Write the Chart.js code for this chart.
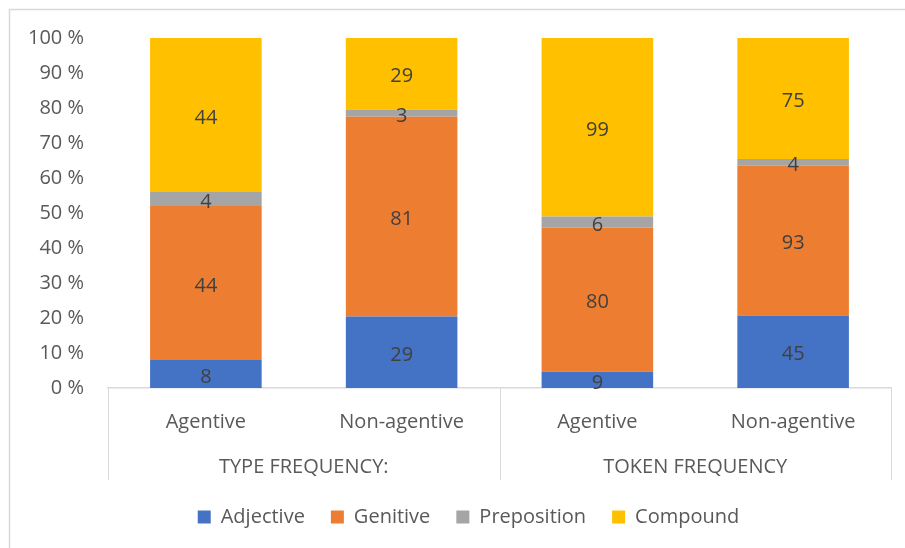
<!DOCTYPE html>
<html>
<head>
<meta charset="utf-8">
<script src="https://cdn.jsdelivr.net/npm/chart.js@4"></script>
<style>
  html, body { margin: 0; padding: 0; background: #fff; }
  #wrap { width: 905px; height: 548px; }
</style>
</head>
<body>
<div id="wrap"><canvas id="myChart" width="905" height="548"></canvas></div>
<script>
const ctx = document.querySelector('#myChart').getContext('2d');

// categories (two levels)
const categories = ['Agentive', 'Non-agentive', 'Agentive', 'Non-agentive'];
const groups = ['TYPE FREQUENCY:', 'TOKEN FREQUENCY'];

// raw counts per series
const adjective = [8, 29, 9, 45];
const genitive = [44, 81, 80, 93];
const preposition = [4, 3, 6, 4];
const compound = [44, 29, 99, 75];

const yTicks = [0, 10, 20, 30, 40, 50, 60, 70, 80, 90, 100];

const totals = categories.map((c, i) => adjective[i] + genitive[i] + preposition[i] + compound[i]);
const pct = arr => arr.map((v, i) => v / totals[i] * 100);

const FONT = 'Open Sans';
const AXIS_GRAY = '#d9d9d9';

const makeSet = (label, counts, color) => ({
  label,
  data: pct(counts),
  counts,
  backgroundColor: color,
  borderWidth: 0,
  barPercentage: 0.57,
  categoryPercentage: 1,
  xAxisID: 'x',
});

// draws counts in the middle of every segment
const barLabels = {
  id: 'barLabels',
  afterDatasetsDraw(chart) {
    const c = chart.ctx;
    c.save();
    c.font = '20px "' + FONT + '"';
    c.fillStyle = '#404040';
    c.textAlign = 'center';
    c.textBaseline = 'middle';
    chart.data.datasets.forEach((ds, di) => {
      chart.getDatasetMeta(di).data.forEach((bar, i) => {
        const p = bar.getCenterPoint();
        c.fillText(String(ds.counts[i]), p.x, p.y + 3);
      });
    });
    c.restore();
  }
};

// group divider lines under the axis + outer frame
const groupLines = {
  id: 'groupLines',
  afterLayout(chart) {
    // legend sits a bit right of the full-width centre
    chart.legend.left = 46;
  },
  beforeDraw(chart) {
    const c = chart.ctx;
    c.save();
    c.strokeStyle = AXIS_GRAY;
    c.lineWidth = 1.5;
    c.beginPath();
    c.moveTo(9.5, chart.height);
    c.lineTo(9.5, 9.5);
    c.lineTo(chart.width, 9.5);
    c.stroke();
    c.restore();
  },
  afterDraw(chart) {
    const x = chart.scales.x;
    const x2 = chart.scales.x2;
    const area = chart.chartArea;
    const mid = (x.getPixelForValue(1) + x.getPixelForValue(2)) / 2;
    const c = chart.ctx;
    c.save();
    c.strokeStyle = AXIS_GRAY;
    c.lineWidth = 1;
    [area.left, mid, area.right].forEach(px => {
      const xx = Math.round(px) + 0.5;
      c.beginPath();
      c.moveTo(xx, area.bottom);
      c.lineTo(xx, x2.bottom - 1);
      c.stroke();
    });
    c.restore();
  }
};

new Chart(ctx, {
  type: 'bar',
  data: {
    labels: categories,
    datasets: [
      makeSet('Adjective', adjective, '#4472C4'),
      makeSet('Genitive', genitive, '#ED7D31'),
      makeSet('Preposition', preposition, '#A5A5A5'),
      makeSet('Compound', compound, '#FFC000'),
    ],
  },
  options: {
    responsive: false,
    animation: false,
    layout: { padding: { left: 10, right: 14, top: 38, bottom: 11 } },
    plugins: {
      legend: {
        position: 'bottom',
        labels: {
          boxWidth: 13,
          boxHeight: 13,
          padding: 26,
          color: '#595959',
          font: { family: FONT, size: 20 },
        },
      },
      tooltip: { enabled: false },
    },
    scales: {
      x: {
        stacked: true,
        position: 'bottom',
        grid: { display: false },
        border: { display: true, color: AXIS_GRAY, width: 1.5 },
        ticks: { color: '#595959', padding: 14, font: { family: FONT, size: 20 } },
        afterFit(s) { s.height = 58; },
      },
      x2: {
        type: 'category',
        labels: groups,
        position: 'bottom',
        offset: true,
        grid: { display: false },
        border: { display: false },
        ticks: { color: '#595959', padding: 1, font: { family: FONT, size: 20 } },
        afterFit(s) { s.height = 35; },
      },
      y: {
        stacked: true,
        min: 0,
        max: 100,
        afterBuildTicks(s) { s.ticks = yTicks.map(v => ({ value: v })); },
        grid: { display: false },
        border: { display: false },
        ticks: {
          color: '#595959',
          padding: 16,
          font: { family: FONT, size: 20 },
          callback: v => v + ' %',
        },
        afterFit(s) { s.width = 98; },
      },
    },
  },
  plugins: [barLabels, groupLines],
});
</script>
</body>
</html>
